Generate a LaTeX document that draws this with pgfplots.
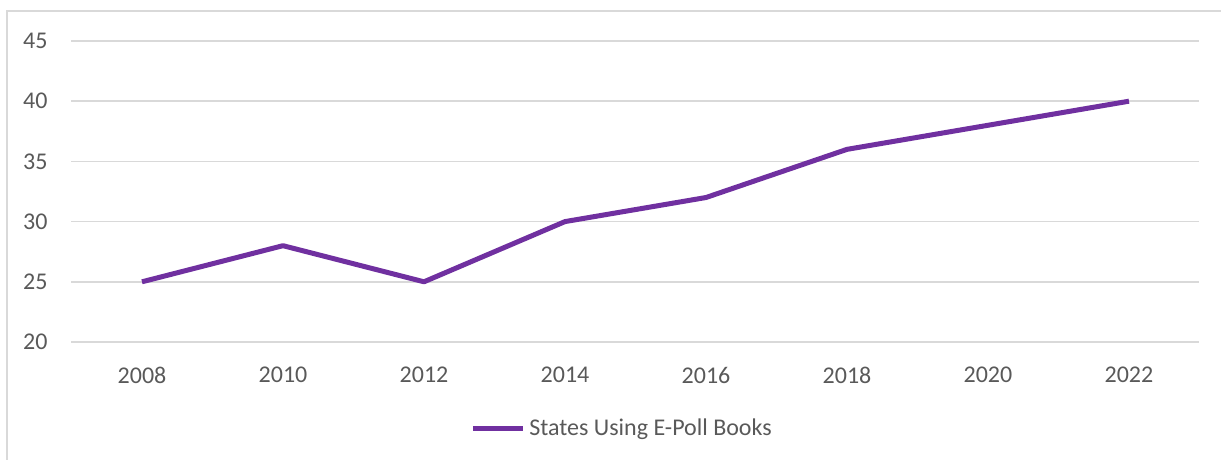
\documentclass[border=0pt]{standalone}
\usepackage{pgfplots}
\pgfplotsset{compat=1.18}
\usepackage{fontspec}
\setmainfont{Carlito}
\definecolor{epurple}{HTML}{7030A0}
\definecolor{gridgray}{HTML}{D9D9D9}
\definecolor{textgray}{HTML}{595959}
\begin{document}
\begin{tikzpicture}[x=0.5pt,y=0.5pt]
\useasboundingbox (0,0) rectangle (1221,460);
\draw[gridgray,line width=1pt] (7,0) -- (7,449) -- (1221,449);
\begin{axis}[
  at={(35.75pt,59pt)}, anchor=south west,
  scale only axis, width=564pt, height=150.5pt,
  xmin=-0.5, xmax=7.5, ymin=20, ymax=45,
  xtick={0,...,7},
  xticklabels={2008,2010,2012,2014,2016,2018,2020,2022},
  ytick={20,25,...,45},
  axis line style={draw=none},
  major tick length=0pt,
  ymajorgrids, grid style={gridgray,line width=0.8pt},
  tick label style={font=\fontsize{12}{14}\selectfont, text=textgray},
  /pgf/number format/assume math mode=true,
  yticklabel style={xshift=-8.5pt},
  xticklabel style={yshift=-9pt},
  legend style={at={(0.489,-0.289)}, anchor=center, draw=none, fill=none,
    font=\fontsize{12}{14}\selectfont, text=textgray,
    legend image code/.code={\draw[#1] (0pt,0pt) -- (25pt,0pt);}},
  clip=false,
]
\addplot[epurple, line width=2.5pt, line join=round] coordinates {
  (0,25) (1,28) (2,25) (3,30) (4,32) (5,36) (6,38) (7,40)
};
\addlegendentry{States Using E-Poll Books}
\end{axis}
\end{tikzpicture}
\end{document}
